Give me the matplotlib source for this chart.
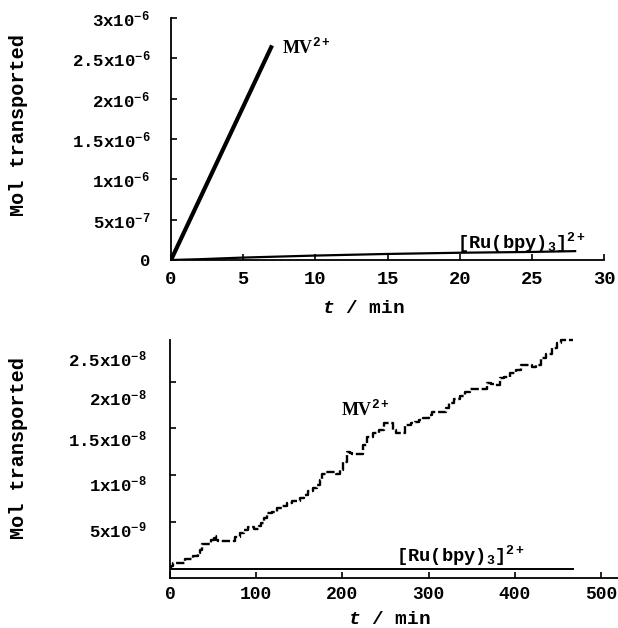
import matplotlib
matplotlib.use("Agg")
import matplotlib.pyplot as plt
from matplotlib.ticker import FixedLocator, NullFormatter, FixedFormatter

plt.rcParams['font.family'] = ['Liberation Mono', 'DejaVu Sans Mono']
plt.rcParams['font.weight'] = 'bold'
plt.rcParams['mathtext.fontset'] = 'custom'
plt.rcParams['mathtext.rm'] = 'Liberation Mono:bold'
plt.rcParams['mathtext.it'] = 'Liberation Mono:italic:bold'
plt.rcParams['mathtext.bf'] = 'Liberation Mono:bold'

# ---------------- data ----------------
# top panel (t in min, mol)
top_mv_t = [0, 1, 2, 3, 4, 5, 6, 7]
top_mv_y = [0, 0.38e-6, 0.76e-6, 1.14e-6, 1.52e-6, 1.90e-6, 2.28e-6, 2.66e-6]
top_ru_t = [0, 2, 5, 10, 15, 20, 25, 28]
top_ru_y = [0, 0.01e-6, 0.03e-6, 0.055e-6, 0.075e-6, 0.09e-6, 0.10e-6, 0.11e-6]

top_xticks = [0, 5, 10, 15, 20, 25, 30]
top_yticks = [0, 5e-7, 1e-6, 1.5e-6, 2e-6, 2.5e-6, 3e-6]
top_ylabels = ["0", r"5x10$^{-7}$", r"1x10$^{-6}$", r"1.5x10$^{-6}$",
               r"2x10$^{-6}$", r"2.5x10$^{-6}$", r"3x10$^{-6}$"]

# bottom panel
bot_mv_t = [0, 2, 5, 15, 19, 25, 28, 31, 34, 36, 38, 46, 50, 52, 54, 58, 73, 78,
            84, 88, 92, 96, 98, 102, 104, 107, 111, 115, 122, 126, 134, 138, 145,
            149, 153, 157, 163, 169, 172, 175, 178, 184, 190, 195, 199, 203, 207,
            210, 213, 221, 226, 232, 239, 245, 251, 257, 260, 265, 270, 276, 282,
            287, 291, 297, 303, 306, 318, 322, 326, 333, 339, 345, 351, 366, 370,
            375, 379, 381, 385, 391, 398, 404, 410, 418, 421, 427, 433, 440, 446,
            452, 456, 467]
bot_mv_y_e9 = [0.05, 0.3, 0.6, 0.6, 1.0, 1.0, 1.3, 1.3, 1.65, 2.0, 2.6, 2.65, 3.1,
               3.45, 3.1, 3.0, 3.0, 3.4, 3.8, 4.1, 4.4, 4.45, 4.2, 4.2, 4.6, 4.85,
               5.4, 5.9, 6.1, 6.45, 6.65, 7.0, 7.2, 7.2, 7.5, 7.9, 8.25, 8.6, 8.95,
               9.5, 10.1, 10.35, 10.35, 10.1, 10.55, 11.45, 12.5, 12.4, 12.3, 12.3,
               13.2, 14.1, 14.5, 14.8, 15.6, 15.6, 14.8, 14.5, 14.5, 15.4, 15.6,
               15.65, 15.9, 16.1, 16.4, 16.8, 16.8, 17.15, 17.7, 18.1, 18.5, 18.9,
               19.25, 19.25, 19.8, 19.75, 19.65, 19.6, 20.35, 20.5, 20.9, 21.2, 21.8,
               21.8, 21.6, 21.8, 22.5, 23.0, 23.6, 24.1, 24.4, 24.4]
bot_mv_y = [v * 1e-9 for v in bot_mv_y_e9]
bot_ru_t = [0, 100, 200, 300, 400, 467]
bot_ru_y = [0, 0, 0, 0, 0, 0]

bot_xticks = [0, 100, 200, 300, 400, 500]
bot_yticks = [5e-9, 1e-8, 1.5e-8, 2e-8]
bot_ylabels = [r"2.5x10$^{-8}$", r"2x10$^{-8}$", r"1.5x10$^{-8}$",
               r"1x10$^{-8}$", r"5x10$^{-9}$"]
# where the labels sit in the reference (they drift from the tick marks)
bot_ylabel_pos = [2.25e-8, 1.835e-8, 1.40e-8, 0.917e-8, 0.425e-8]

# ---------------- figure ----------------
W, H = 618, 628
fig = plt.figure(figsize=(W / 100, H / 100), dpi=100)

def px_axes(l, r, b, t):
    return fig.add_axes([l / W, 1 - b / H, (r - l) / W, (b - t) / H])

ax1 = px_axes(171, 604, 260, 18)
ax2 = px_axes(170, 618, 578, 340)

for ax in (ax1, ax2):
    for s in ('top', 'right'):
        ax.spines[s].set_visible(False)
    for s in ('left', 'bottom'):
        ax.spines[s].set_linewidth(1.3)
    ax.tick_params(direction='in', length=4.5, width=1.2, top=False, right=False)
    ax.patch.set_alpha(0)

# top panel
ax1.plot(top_mv_t, top_mv_y, color='black', lw=3.0, solid_capstyle='butt')
ax1.plot(top_ru_t, top_ru_y, color='black', lw=1.6)
ax1.set_xlim(0, 30)
ax1.set_ylim(0, 3e-6)
ax1.set_xticks(top_xticks)
ax1.set_xticklabels([str(v) for v in top_xticks], fontsize=13.5, fontweight='bold')
ax1.set_yticks(top_yticks)
ax1.set_yticklabels(top_ylabels, fontsize=12.5, fontweight='bold')
ax1.tick_params(axis='x', pad=8)
ax1.tick_params(axis='y', pad=15)
ax1.text(7.7, 2.64e-6, r"MV$^{2+}$", fontsize=13, fontweight='bold',
         family='Liberation Serif', ha='left', va='center')
ax1.text(19.8, 0.21e-6, r"[Ru(bpy)$_3$]$^{2+}$", fontsize=13.5, fontweight='bold',
         ha='left', va='center')

# bottom panel
ax2.plot(bot_mv_t, bot_mv_y, color='black', lw=1.7, drawstyle='steps-mid',
         dashes=(3.5, 1.2), clip_on=False)
ax2.plot(bot_ru_t, bot_ru_y, color='black', lw=1.4)
ax2.set_xlim(0, 519.7)
ax2.set_ylim(-1e-9, 2.4445e-8)
ax2.set_xticks(bot_xticks)
ax2.set_xticklabels([str(v) for v in bot_xticks], fontsize=13, fontweight='bold')
ax2.tick_params(axis='x', pad=5.5)
ax2.yaxis.set_major_locator(FixedLocator(bot_yticks))
ax2.yaxis.set_major_formatter(NullFormatter())
ax2.yaxis.set_minor_locator(FixedLocator(bot_ylabel_pos))
ax2.yaxis.set_minor_formatter(FixedFormatter(bot_ylabels))
ax2.tick_params(axis='y', which='minor', length=0, pad=17)
for lab in ax2.get_yticklabels(minor=True):
    lab.set_fontsize(12.5)
    lab.set_fontweight('bold')
ax2.text(198, 1.71e-8, r"MV$^{2+}$", fontsize=13, fontweight='bold',
         family='Liberation Serif', ha='left', va='center')
ax2.text(262, 1.4e-9, r"[Ru(bpy)$_3$]$^{2+}$", fontsize=13.5, fontweight='bold',
         ha='left', va='center')

# axis titles
fig.text(19 / W, 1 - 125 / H, "Mol transported", rotation=90, ha='center',
         va='center', fontsize=14.5, fontweight='bold')
fig.text(19 / W, 1 - 448 / H, "Mol transported", rotation=90, ha='center',
         va='center', fontsize=14.5, fontweight='bold')
fig.text(363 / W, 1 - 309 / H, r"$t$ / min", ha='center', va='center',
         fontsize=14, fontweight='bold')
fig.text(389 / W, 1 - 619 / H, r"$t$ / min", ha='center', va='center',
         fontsize=14, fontweight='bold')

fig.savefig("out.png", dpi=100)
